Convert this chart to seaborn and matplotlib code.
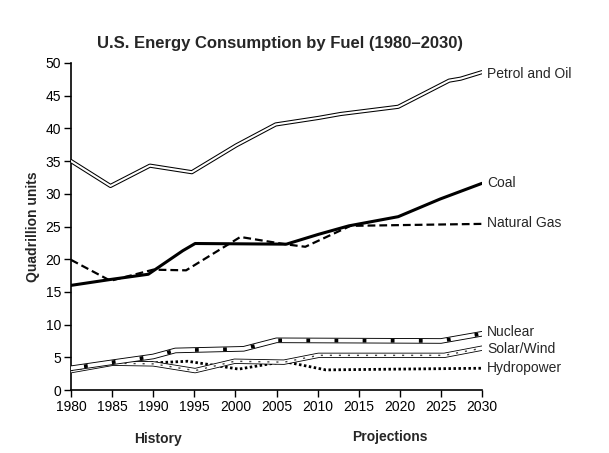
import matplotlib
matplotlib.use("Agg")
import matplotlib.pyplot as plt
import seaborn as sns
import pandas as pd

sns.set_style("ticks")
plt.rcParams['font.family'] = ['Liberation Sans', 'DejaVu Sans']

title = "U.S. Energy Consumption by Fuel (1980\u20132030)"
ylabel = "Quadrillion units"
x_ticks = [1980, 1985, 1990, 1995, 2000, 2005, 2010, 2015, 2020, 2025, 2030]
y_ticks = [0, 5, 10, 15, 20, 25, 30, 35, 40, 45, 50]

petrol_years = [1980, 1984.8, 1989.6, 1994.7, 2000.1, 2004.9, 2010.1, 2012.8, 2019.8, 2026.0, 2027.4, 2030]
petrol_vals = [35.0, 31.2, 34.3, 33.3, 37.4, 40.6, 41.6, 42.2, 43.3, 47.3, 47.6, 48.6]

coal_years = [1980, 1984.8, 1989.4, 1993.6, 1995.1, 2006.2, 2010.1, 2013.8, 2019.8, 2024.9, 2030]
coal_vals = [16.0, 16.9, 17.7, 21.3, 22.4, 22.3, 23.8, 25.1, 26.5, 29.2, 31.6]

gas_years = [1980, 1984.8, 1990, 1994, 2000.6, 2006, 2008.5, 2014, 2030]
gas_vals = [19.9, 16.7, 18.4, 18.3, 23.4, 22.3, 21.9, 25.1, 25.4]

nuclear_years = [1980, 1985.1, 1990, 1992.7, 2001, 2005, 2025, 2030]
nuclear_vals = [3.33, 4.26, 5.13, 6.05, 6.3, 7.6, 7.5, 8.6]

solar_years = [1980, 1985.1, 1990, 1995.1, 1999.9, 2005.9, 2010.1, 2025.4, 2030]
solar_vals = [2.97, 4.1, 4.0, 2.97, 4.4, 4.26, 5.3, 5.3, 6.4]

hydro_years = [1980, 1985.1, 1990, 1994.2, 2000.4, 2005.9, 2011, 2030]
hydro_vals = [3.08, 4.0, 4.15, 4.4, 3.2, 4.36, 3.08, 3.33]

series_names = ["Petrol and Oil", "Coal", "Natural Gas", "Nuclear", "Solar/Wind", "Hydropower"]
label_y = [48.3, 31.6, 25.5, 8.8, 6.2, 3.4]

fig = plt.figure(figsize=(6.09, 4.53), dpi=100)
ax = fig.add_axes([0.1166, 0.139, 0.6749, 0.722])

def df(years, vals):
    return pd.DataFrame({"year": years, "value": vals})

# Petrol and Oil: double line
d = df(petrol_years, petrol_vals)
sns.lineplot(data=d, x="year", y="value", ax=ax, color="black", lw=3.0,
             solid_capstyle="round", solid_joinstyle="round", zorder=3)
sns.lineplot(data=d, x="year", y="value", ax=ax, color="white", lw=1.5,
             solid_capstyle="round", solid_joinstyle="round", zorder=4)

# Natural Gas
sns.lineplot(data=df(gas_years, gas_vals), x="year", y="value", ax=ax, color="black",
             lw=1.6, linestyle=(0, (3.5, 1.8)), zorder=3)

# Coal
sns.lineplot(data=df(coal_years, coal_vals), x="year", y="value", ax=ax, color="black",
             lw=2.2, zorder=4)

# Hydropower
sns.lineplot(data=df(hydro_years, hydro_vals), x="year", y="value", ax=ax, color="black",
             lw=2.0, linestyle=(0, (0.9, 0.9)), zorder=3)

# Solar/Wind: double line with hatching
d = df(solar_years, solar_vals)
sns.lineplot(data=d, x="year", y="value", ax=ax, color="black", lw=3.8,
             solid_capstyle="round", solid_joinstyle="round", zorder=5)
sns.lineplot(data=d, x="year", y="value", ax=ax, color="white", lw=2.6,
             solid_capstyle="round", solid_joinstyle="round", zorder=6)
sns.lineplot(data=d, x="year", y="value", ax=ax, color="#444444", lw=1.0,
             linestyle=(0, (1.5, 5)), zorder=7)

# Nuclear: double line with square dashes
d = df(nuclear_years, nuclear_vals)
sns.lineplot(data=d, x="year", y="value", ax=ax, color="black", lw=4.0,
             solid_capstyle="round", solid_joinstyle="round", zorder=8)
sns.lineplot(data=d, x="year", y="value", ax=ax, color="white", lw=2.7,
             solid_capstyle="round", solid_joinstyle="round", zorder=9)
sns.lineplot(data=d, x="year", y="value", ax=ax, color="black", lw=2.7,
             linestyle=(4, (1, 6.5)), zorder=10)

ax.set_xlim(1980, 2030)
ax.set_ylim(0, 50)
ax.set_xticks(x_ticks)
ax.set_yticks(y_ticks)
ax.set_xticklabels([str(t) for t in x_ticks], fontsize=10)
ax.set_yticklabels([str(t) for t in y_ticks], fontsize=10)
ax.tick_params(axis="both", direction="out", length=5, width=1, pad=2, colors="black")
sns.despine(ax=ax)
for s in ["left", "bottom"]:
    ax.spines[s].set_linewidth(1.2)
    ax.spines[s].set_color("black")
ax.set_xlabel("")
ax.set_ylabel(ylabel, fontsize=10, fontweight="bold", labelpad=4)

for name, yv in zip(series_names, label_y):
    ax.text(2030.6, yv, name, fontsize=10, va="center", ha="left", clip_on=False)

fig.text(0.46, 0.905, title, fontsize=12, fontweight="bold", ha="center", va="center")
fig.text(0.259, 0.031, "History", fontsize=10, fontweight="bold", ha="center", va="center")
fig.text(0.640, 0.035, "Projections", fontsize=10, fontweight="bold", ha="center", va="center")

fig.savefig("out.png", dpi=100)
